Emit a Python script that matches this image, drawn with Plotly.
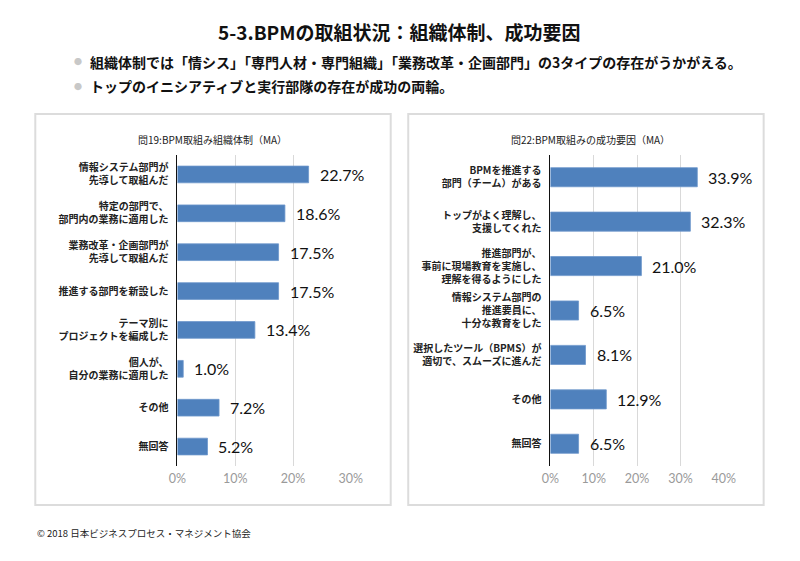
import plotly.graph_objects as go

# ---- data ----
left_title = "問19:BPM取組み組織体制（MA）"
left_categories = [
    "情報システム部門が<br>先導して取組んだ",
    "特定の部門で、<br>部門内の業務に適用した",
    "業務改革・企画部門が<br>先導して取組んだ",
    "推進する部門を新設した",
    "テーマ別に<br>プロジェクトを編成した",
    "個人が、<br>自分の業務に適用した",
    "その他",
    "無回答",
]
left_values = [22.7, 18.6, 17.5, 17.5, 13.4, 1.0, 7.2, 5.2]
left_ticks = [0, 10, 20, 30]

right_title = "問22:BPM取組みの成功要因（MA）"
right_categories = [
    "BPMを推進する<br>部門（チーム）がある",
    "トップがよく理解し、<br>支援してくれた",
    "推進部門が、<br>事前に現場教育を実施し、<br>理解を得るようにした",
    "情報システム部門の<br>推進要員に、<br>十分な教育をした",
    "選択したツール（BPMS）が<br>適切で、スムーズに進んだ",
    "その他",
    "無回答",
]
right_values = [33.9, 32.3, 21.0, 6.5, 8.1, 12.9, 6.5]
right_ticks = [0, 10, 20, 30, 40]

main_title = "5-3.BPMの取組状況：組織体制、成功要因"
bullets = [
    "組織体制では「情シス」「専門人材・専門組織」「業務改革・企画部門」の3タイプの存在がうかがえる。",
    "トップのイニシアティブと実行部隊の存在が成功の両輪。",
]
footer = "© 2018 日本ビジネスプロセス・マネジメント協会"

# ---- layout helpers ----
W, H = 800, 561
def px(x):
    return x / W
def py(y):
    return 1 - y / H

JP = "Noto Sans CJK JP"
NUM = "Lato, Noto Sans"
BAR = "#4f81bd"
GRID = "#d9d9d9"

fig = go.Figure()

fig.add_trace(go.Bar(
    x=left_values, y=left_categories, orientation="h",
    marker=dict(color=BAR, line=dict(color="#6d97cc", width=0.8)),
    xaxis="x", yaxis="y", hoverinfo="x+y", showlegend=False,
))
fig.add_trace(go.Bar(
    x=right_values, y=right_categories, orientation="h",
    marker=dict(color=BAR, line=dict(color="#6d97cc", width=0.8)),
    xaxis="x2", yaxis="y2", hoverinfo="x+y", showlegend=False,
))

annotations = []
for cat, v in zip(left_categories, left_values):
    annotations.append(dict(x=v, y=cat, xref="x", yref="y", text=f"{v:.1f}%",
                            showarrow=False, xanchor="left", xshift=9,
                            font=dict(family=NUM, size=16, color="#111")))
for cat, v in zip(right_categories, right_values):
    annotations.append(dict(x=v, y=cat, xref="x2", yref="y2", text=f"{v:.1f}%",
                            showarrow=False, xanchor="left", xshift=9,
                            font=dict(family=NUM, size=16, color="#111")))

# panel titles
annotations.append(dict(x=px(209), y=py(139), xref="paper", yref="paper", text=left_title,
                        showarrow=False, xanchor="center", yanchor="middle",
                        font=dict(family=JP, size=10, color="#222")))
annotations.append(dict(x=px(597), y=py(139), xref="paper", yref="paper", text=right_title,
                        showarrow=False, xanchor="center", yanchor="middle",
                        font=dict(family=JP, size=10, color="#222")))
# main title
annotations.append(dict(x=0.5, y=py(31), xref="paper", yref="paper", text=main_title,
                        showarrow=False, xanchor="center", yanchor="middle",
                        font=dict(family=JP, size=19, color="#111", weight="bold")))
# bullets
for i, b in enumerate(bullets):
    yy = 62 + i * 24
    annotations.append(dict(x=px(71), y=py(yy), xref="paper", yref="paper", text="●",
                            showarrow=False, xanchor="center", yanchor="middle",
                            font=dict(family=JP, size=8, color="#c8c8c8")))
    annotations.append(dict(x=px(81), y=py(yy), xref="paper", yref="paper", text=b,
                            showarrow=False, xanchor="left", yanchor="middle",
                            font=dict(family=JP, size=14, color="#111", weight="bold")))
# footer
annotations.append(dict(x=px(27), y=py(533), xref="paper", yref="paper", text=footer,
                        showarrow=False, xanchor="left", yanchor="middle",
                        font=dict(family=JP, size=9.5, color="#222")))

shapes = [
    dict(type="rect", xref="paper", yref="paper", x0=px(27), x1=px(392), y0=py(505), y1=py(114),
         line=dict(color="#dcdcdc", width=2), fillcolor="rgba(0,0,0,0)", layer="below"),
    dict(type="rect", xref="paper", yref="paper", x0=px(410), x1=px(775), y0=py(505), y1=py(114),
         line=dict(color="#dcdcdc", width=2), fillcolor="rgba(0,0,0,0)", layer="below"),
]

xcommon = dict(showgrid=True, gridcolor=GRID, gridwidth=1, zeroline=False, showline=False,
               tickfont=dict(family=NUM, size=12.5, color="#9a9a9a"),
               fixedrange=True, ticks="", ticklabelstandoff=3)
ycommon = dict(showgrid=False, zeroline=False, showline=True, linecolor="#111", linewidth=1,
               autorange="reversed", ticks="", ticklabelstandoff=6, fixedrange=True,
               tickfont=dict(family=JP, size=10, color="#222", weight="bold"))

fig.update_layout(
    width=W, height=H,
    margin=dict(l=0, r=0, t=0, b=0),
    paper_bgcolor="white", plot_bgcolor="white",
    bargap=0.57,
    xaxis=dict(domain=[px(173), px(351)], range=[0, 30], tickmode="array",
               tickvals=left_ticks, ticktext=[f"{t}%" for t in left_ticks], anchor="y", **xcommon),
    yaxis=dict(domain=[py(466), py(155)], anchor="x", **ycommon),
    xaxis2=dict(domain=[px(556), px(734)], range=[0, 40], tickmode="array",
                tickvals=right_ticks, ticktext=[f"{t}%" for t in right_ticks], anchor="y2", **xcommon),
    yaxis2=dict(domain=[py(466), py(155)], anchor="x2", **ycommon),
    annotations=annotations,
    shapes=shapes,
)

fig.write_html("out.html", config={"displayModeBar": False},
               post_script="document.body.style.margin='0';")
